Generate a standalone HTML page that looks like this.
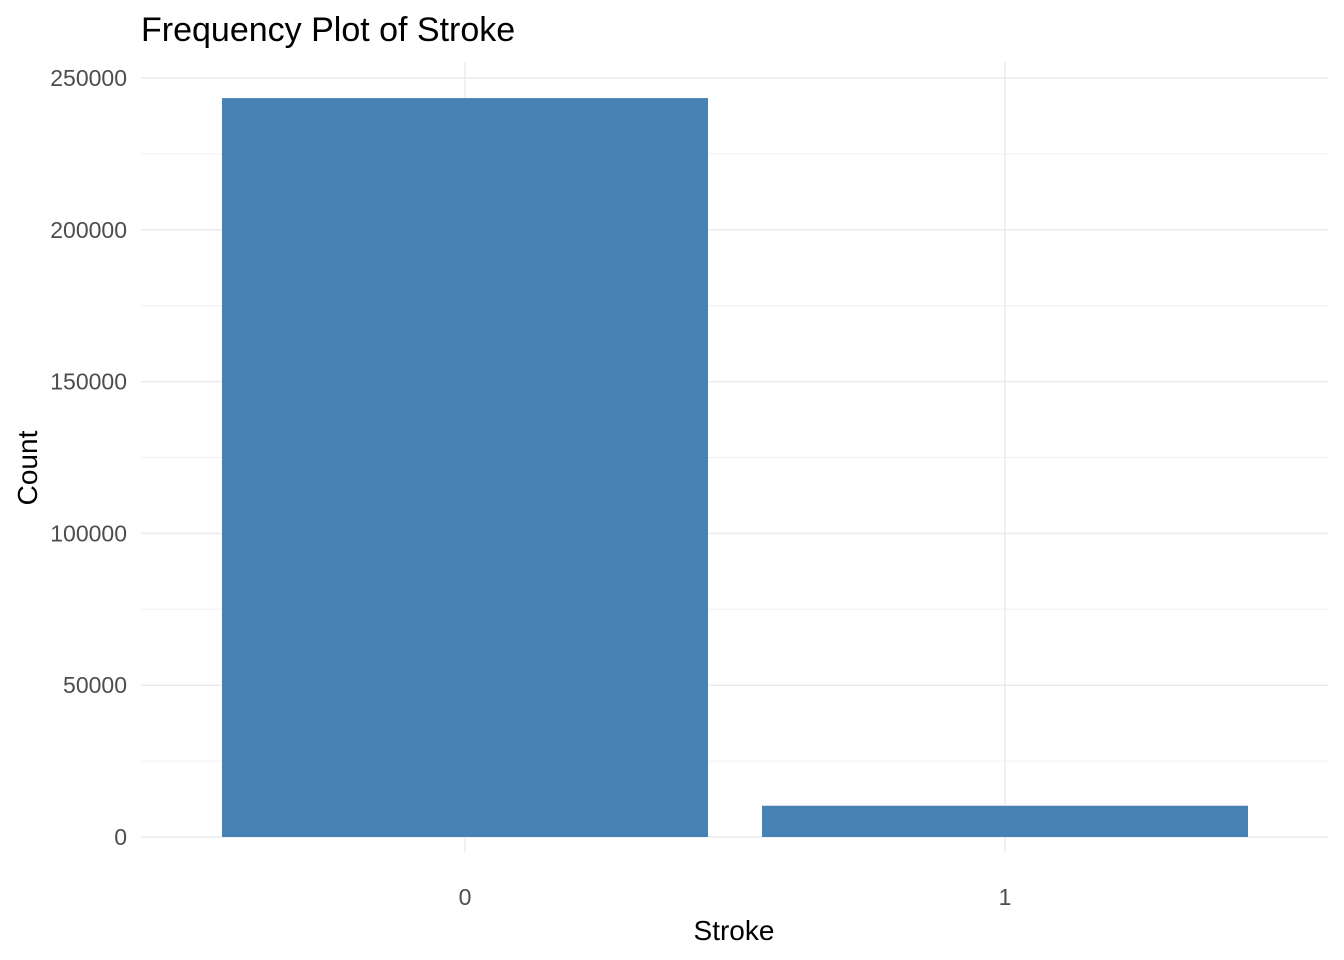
<!DOCTYPE html>
<html><head><meta charset="utf-8"><style>
body{margin:0;background:#fff;}
svg{display:block;font-family:"Liberation Sans",Arial,sans-serif;}
</style></head><body>
<svg id="chart" width="1344" height="960"></svg>
<script>
const categories = ["0", "1"];
const counts = [243388, 10292];
const yTicks = [0, 50000, 100000, 150000, 200000, 250000];
const yMinor = [25000, 75000, 125000, 175000, 225000];

const NS = "http://www.w3.org/2000/svg";
const svg = document.getElementById("chart");
const panel = {left:141, right:1328, top:62, bottom:852};
const y0px = 837, yTopPx = 78;
function y(v){ return y0px - v/250000*(y0px - yTopPx); }
function x(i){ return 465 + i*540; }
const bandW = 540*0.9;
function mk(tag, attrs, text){
  const el = document.createElementNS(NS, tag);
  for (const k in attrs) el.setAttribute(k, attrs[k]);
  if (text !== undefined) el.textContent = text;
  svg.appendChild(el);
  return el;
}
yMinor.forEach(v=>{
  const l = mk("line",{x1:panel.left,x2:panel.right,y1:y(v),y2:y(v),stroke:"#f0f0f0","stroke-width":1});
  
  
});
yTicks.forEach(v=>{
  const l = mk("line",{x1:panel.left,x2:panel.right,y1:y(v),y2:y(v),stroke:"#ebebeb","stroke-width":1.5});
  
  
  const t = mk("text",{x:127,y:y(v)+8,"text-anchor":"end","font-size":"23","fill":"#4d4d4d"},String(v));
  
  
});
categories.forEach((c,i)=>{
  const l = mk("line",{x1:x(i),x2:x(i),y1:panel.top,y2:panel.bottom,stroke:"#ebebeb","stroke-width":1.5});
  
  
});
categories.forEach((c,i)=>{
  const r = mk("rect",{x:x(i)-bandW/2,y:y(counts[i]),width:bandW,height:y(0)-y(counts[i]),fill:"#4682b4"});
  
  
  const t = mk("text",{x:x(i),y:905,"text-anchor":"middle","font-size":"23","fill":"#4d4d4d"},c);
  
  
});
const title = mk("text",{x:141,y:41,"font-size":"34","fill":"#000"},"Frequency Plot of Stroke");


const xt = mk("text",{x:734,y:940,"text-anchor":"middle","font-size":"28","fill":"#000"},"Stroke");


const yt = mk("text",{x:0,y:0,"text-anchor":"middle","font-size":"28","fill":"#000",transform:"translate(37,468) rotate(-90)"},"Count");


</script>
</body></html>
